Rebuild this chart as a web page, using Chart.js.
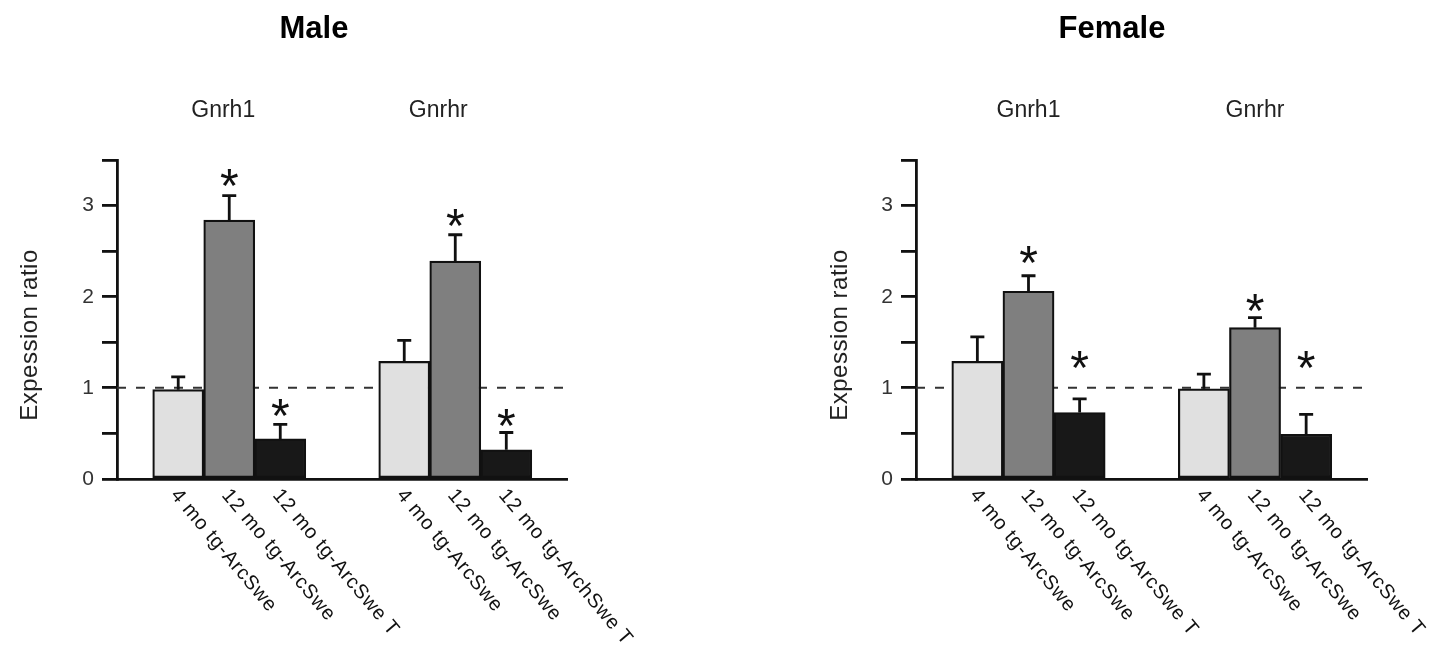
<!DOCTYPE html>
<html><head><meta charset="utf-8">
<script src="https://cdn.jsdelivr.net/npm/chart.js@4.4.1/dist/chart.umd.min.js"></script>
<style>
html,body{margin:0;padding:0;background:#fff;width:1438px;height:663px;overflow:hidden}
.wrap{position:absolute;top:0;height:663px}
canvas{display:block}
</style></head><body>
<div class="wrap" style="left:0;width:700px"><canvas id="male"></canvas></div>
<div class="wrap" style="left:700px;width:738px"><canvas id="female"></canvas></div>
<script>
// ---- data ----
const genes = ['Gnrh1', 'Gnrhr'];
const maleBarLabels = ['4 mo tg-ArcSwe', '12 mo tg-ArcSwe', '12 mo tg-ArcSwe T', '4 mo tg-ArcSwe', '12 mo tg-ArcSwe', '12 mo tg-ArchSwe T'];
const femaleBarLabels = ['4 mo tg-ArcSwe', '12 mo tg-ArcSwe', '12 mo tg-ArcSwe T', '4 mo tg-ArcSwe', '12 mo tg-ArcSwe', '12 mo tg-ArcSwe T'];
const maleMeans = [0.98, 2.84, 0.44, 1.29, 2.39, 0.32];
const maleSem = [0.14, 0.27, 0.16, 0.23, 0.29, 0.19];
const maleStarAt = [null, 3.31, 0.78, null, 2.87, 0.67];
const femaleMeans = [1.29, 2.06, 0.73, 0.99, 1.66, 0.49];
const femaleSem = [0.27, 0.17, 0.15, 0.16, 0.11, 0.22];
const femaleStarAt = [null, 2.46, 1.31, null, 1.94, 1.31];
const yTicks = [0, 1, 2, 3];
const referenceLevel = 1;
const yMax = 3.5;

// ---- styles ----
const barColors = ['#e0e0e0', '#7f7f7f', '#181818'];
const FONT = "'Liberation Sans', Arial, sans-serif";
Chart.defaults.font.family = FONT;

const annotPlugin = {
  id: 'annot',
  afterDatasetsDraw(chart, args, o) {
    const ctx = chart.ctx, ys = chart.scales.y, ca = chart.chartArea;
    const meta = chart.getDatasetMeta(1);
    const bars = meta.data;
    ctx.save();
    // error bars
    ctx.strokeStyle = '#111'; ctx.lineWidth = 2.8; ctx.lineCap = 'butt';
    bars.forEach((el, i) => {
      const top = ys.getPixelForValue(o.means[i] + o.sem[i]);
      const base = ys.getPixelForValue(o.means[i]);
      ctx.beginPath();
      ctx.moveTo(el.x, base); ctx.lineTo(el.x, top);
      ctx.moveTo(el.x - 7, top); ctx.lineTo(el.x + 7, top);
      ctx.stroke();
    });
    // asterisks
    ctx.fillStyle = '#111';
    ctx.font = '48px ' + FONT;
    ctx.textAlign = 'center'; ctx.textBaseline = 'alphabetic';
    const m = ctx.measureText('*');
    const inkMid = (m.actualBoundingBoxAscent - m.actualBoundingBoxDescent) / 2;
    bars.forEach((el, i) => {
      if (o.stars[i] == null) return;
      const yc = ys.getPixelForValue(o.stars[i]);
      ctx.fillText('*', el.x, yc + inkMid);
    });
    // rotated bar labels
    ctx.font = '20px ' + FONT;
    ctx.letterSpacing = '0.8px';
    ctx.textAlign = 'left'; ctx.textBaseline = 'middle';
    ctx.fillStyle = '#111';
    bars.forEach((el, i) => {
      ctx.save();
      ctx.translate(el.x - 4, ca.bottom + 13);
      ctx.rotate(50 * Math.PI / 180);
      ctx.fillText(o.labels[i], 0, 0);
      ctx.restore();
    });
    ctx.letterSpacing = '0px';
    // group labels
    ctx.font = '23px ' + FONT;
    ctx.textAlign = 'center'; ctx.textBaseline = 'middle';
    ctx.fillStyle = '#222';
    genes.forEach((g, gi) => {
      const cx = (bars[gi * 3].x + bars[gi * 3 + 2].x) / 2 + o.groupShift[gi];
      ctx.fillText(g, cx, ca.top - 49);
    });
    // chart title
    ctx.font = 'bold 31px ' + FONT;
    ctx.fillStyle = '#000';
    ctx.fillText(o.title, o.titleX, 29);
    // y axis title
    ctx.save();
    ctx.translate(o.yTitleX, 335);
    ctx.rotate(-Math.PI / 2);
    ctx.font = '24px ' + FONT;
    ctx.letterSpacing = '0.5px';
    ctx.fillStyle = '#222';
    ctx.fillText('Expession ratio', 0, 0);
    ctx.restore();
    ctx.restore();
  }
};

function makeChart(id, cfg) {
  // bar centre positions in bar-width units: groups of three touching bars
  const xs = cfg.means.map((_, i) => 1.2 + Math.floor(i / 3) * 4.43 + (i % 3));
  const xMax = 8.82;
  new Chart(document.getElementById(id), {
    type: 'bar',
    data: {
      datasets: [
        {
          type: 'line', order: 2,
          data: [{ x: 0, y: referenceLevel }, { x: xMax, y: referenceLevel }],
          borderColor: '#333', borderWidth: 2, borderDash: [9, 10],
          pointRadius: 0, fill: false
        },
        {
          type: 'bar', order: 1,
          data: cfg.means.map((v, i) => ({ x: xs[i], y: v })),
          backgroundColor: cfg.means.map((_, i) => barColors[i % 3]),
          borderColor: '#111', borderWidth: 2.2, borderSkipped: false,
          barPercentage: 1, categoryPercentage: 1
        }
      ]
    },
    options: {
      responsive: true, maintainAspectRatio: false, animation: false,
      layout: { padding: { left: 0, top: 160, right: cfg.padRight, bottom: 0 } },
      plugins: {
        legend: { display: false }, tooltip: { enabled: false }, title: { display: false },
        annot: { means: cfg.means, sem: cfg.sem, stars: cfg.stars, labels: cfg.labels,
                 groupShift: cfg.groupShift, title: cfg.title, titleX: cfg.titleX, yTitleX: cfg.yTitleX }
      },
      scales: {
        x: {
          type: 'linear', min: 0, max: xMax, offset: false,
          ticks: { display: false, stepSize: 1, includeBounds: false },
          grid: { display: false },
          border: { display: true, color: '#111', width: 2.8 },
          afterFit(s) { s.height = 663 - 479; }
        },
        y: {
          min: 0, max: yMax,
          ticks: {
            stepSize: 0.5, padding: 8, color: '#333', font: { size: 21 },
            callback: (v) => yTicks.includes(v) ? String(v) : ''
          },
          grid: { drawOnChartArea: false, drawTicks: true, tickLength: 15, color: '#111', lineWidth: 2.8 },
          border: { display: true, color: '#111', width: 2.8 },
          afterFit(s) { s.width = cfg.axisLeft; }
        }
      }
    },
    plugins: [annotPlugin]
  });
}

makeChart('male', {
  means: maleMeans, sem: maleSem, stars: maleStarAt, labels: maleBarLabels,
  title: 'Male', titleX: 314, yTitleX: 30, axisLeft: 117, padRight: 700 - 567, groupShift: [-6, -17]
});
makeChart('female', {
  means: femaleMeans, sem: femaleSem, stars: femaleStarAt, labels: femaleBarLabels,
  title: 'Female', titleX: 412, yTitleX: 140, axisLeft: 216, padRight: 738 - 667, groupShift: [0, 0]
});
</script>
</body></html>
